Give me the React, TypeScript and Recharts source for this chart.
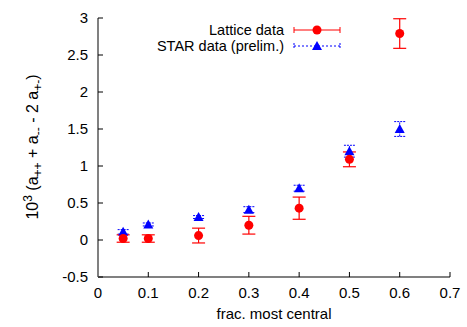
import {
  ScatterChart,
  Scatter,
  XAxis,
  YAxis,
  ErrorBar,
} from 'recharts';

const fracCentral = [0.05, 0.1, 0.2, 0.3, 0.4, 0.5, 0.6];
const latticeValues = [0.02, 0.02, 0.06, 0.2, 0.43, 1.09, 2.79];
const latticeErrors = [0.05, 0.05, 0.1, 0.12, 0.15, 0.1, 0.2];
const starValues = [0.11, 0.21, 0.31, 0.41, 0.7, 1.2, 1.5];
const starErrors = [0.03, 0.02, 0.02, 0.04, 0.04, 0.08, 0.1];

const xTicks = [0, 0.1, 0.2, 0.3, 0.4, 0.5, 0.6, 0.7];
const yTicks = [-0.5, 0, 0.5, 1, 1.5, 2, 2.5, 3];

const latticeData = fracCentral.map((x, i) => ({ x, y: latticeValues[i], err: latticeErrors[i] }));
const starData = fracCentral.map((x, i) => ({ x, y: starValues[i], err: starErrors[i] }));

const FONT = '"Liberation Sans", Arial, sans-serif';
const AXIS_GRAY = '#808080';

const Circle = (props: any) => <circle cx={props.cx} cy={props.cy} r={4.5} fill="#ff0000" />;
const Triangle = (props: any) => {
  const { cx, cy } = props;
  return <path d={`M${cx},${cy - 5} L${cx + 5},${cy + 4} L${cx - 5},${cy + 4} Z`} fill="#0000ff" />;
};

function LegendBox() {
  const row = (label: string, color: string, dashed: boolean, tri: boolean) => (
    <div style={{ display: 'flex', alignItems: 'center', height: 16, lineHeight: '16px', justifyContent: 'flex-end' }}>
      <span style={{ marginRight: 9 }}>{label}</span>
      <svg width={48} height={12}>
        <line x1={1} y1={6} x2={47} y2={6} stroke={color} strokeWidth={1} strokeDasharray={dashed ? '2 2' : undefined} />
        <line x1={1} y1={3} x2={1} y2={9} stroke={color} strokeWidth={1} strokeDasharray={dashed ? '2 1' : undefined} />
        <line x1={47} y1={3} x2={47} y2={9} stroke={color} strokeWidth={1} strokeDasharray={dashed ? '2 1' : undefined} />
        {tri ? (
          <path d="M24,1 L29,10 L19,10 Z" fill={color} />
        ) : (
          <circle cx={24} cy={6} r={4.5} fill={color} />
        )}
      </svg>
    </div>
  );
  return (
    <div style={{ position: 'absolute', right: 126, top: 22, fontFamily: FONT, fontSize: 14.5, color: '#000' }}>
      {row('Lattice data', '#ff0000', false, false)}
      {row('STAR data (prelim.)', '#0000ff', true, true)}
    </div>
  );
}

export default function App() {
  return (
    <div style={{ position: 'absolute', left: 0, top: 0, width: 467, height: 327, background: '#fff', fontFamily: FONT }}>
      <ScatterChart width={467} height={327} margin={{ top: 18, right: 17, bottom: 0, left: 0 }}>
        <XAxis
          type="number"
          dataKey="x"
          domain={[0, 0.7]}
          ticks={xTicks}
          stroke={AXIS_GRAY}
          strokeWidth={2}
          tickSize={-5}
          tickMargin={15}
          height={50}
          tick={{ fill: '#000', fontSize: 15, fontFamily: FONT }}
          tickLine={{ stroke: '#000', strokeWidth: 1 }}
          label={{ value: 'frac. most central', position: 'insideBottom', offset: 8, fill: '#000', fontSize: 15, fontFamily: FONT }}
        />
        <XAxis
          xAxisId="top"
          orientation="top"
          type="number"
          dataKey="x"
          domain={[0, 0.7]}
          ticks={xTicks}
          stroke="#000"
          height={0}
          tickSize={-5}
          tickFormatter={() => ''}
        />
        <YAxis
          type="number"
          dataKey="y"
          domain={[-0.5, 3]}
          ticks={yTicks}
          stroke={AXIS_GRAY}
          strokeWidth={2}
          width={98}
          tickSize={-5}
          tickMargin={15}
          tick={{ fill: '#000', fontSize: 15, fontFamily: FONT }}
          tickLine={{ stroke: '#000', strokeWidth: 1 }}
        />
        <YAxis
          yAxisId="right"
          orientation="right"
          type="number"
          dataKey="y"
          domain={[-0.5, 3]}
          ticks={yTicks}
          stroke={AXIS_GRAY}
          strokeWidth={2}
          width={0}
          tickSize={-5}
          tickFormatter={() => ''}
          tickLine={{ stroke: '#000', strokeWidth: 1 }}
        />
        <Scatter data={starData} shape={<Triangle />} isAnimationActive={false}>
          <ErrorBar dataKey="err" direction="y" width={5.5} stroke="#0000ff" strokeWidth={1} strokeDasharray="2 1" />
        </Scatter>
        <Scatter data={latticeData} shape={<Circle />} isAnimationActive={false}>
          <ErrorBar dataKey="err" direction="y" width={6.5} stroke="#ff0000" strokeWidth={1.2} />
        </Scatter>
      </ScatterChart>
      <div
        style={{
          position: 'absolute',
          left: 33,
          top: 147,
          transform: 'translate(-50%, -50%) rotate(-90deg)',
          whiteSpace: 'nowrap',
          fontSize: 16,
          color: '#000',
        }}
      >
        10<sup style={{ fontSize: 12 }}>3</sup> (a<sub style={{ fontSize: 12 }}>++</sub> + a<sub style={{ fontSize: 12 }}>--</sub> - 2 a<sub style={{ fontSize: 12 }}>+-</sub>)
      </div>
      <LegendBox />
    </div>
  );
}
